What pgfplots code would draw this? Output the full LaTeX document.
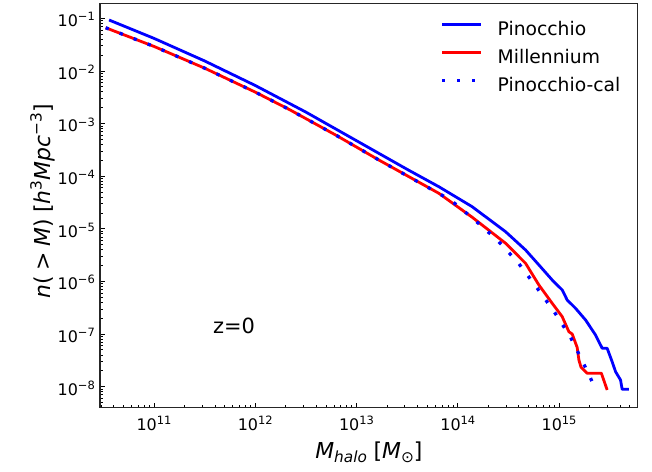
\documentclass[border=0pt]{standalone}
\usepackage{fontspec}
\setmainfont{DejaVu Sans}
\usepackage{pgfplots}
\pgfplotsset{compat=1.18}
\usepackage{pgfplotstable}

\definecolor{mblue}{RGB}{0,0,255}
\definecolor{mred}{RGB}{255,0,0}

\newcommand\tl[1]{10\raisebox{5.9bp}{\fontsize{11.5}{11.5}\selectfont #1}}
\newcommand\sups[1]{\raisebox{8.5bp}{\fontsize{15.4}{15.4}\selectfont #1}}
\newcommand\subs[1]{\raisebox{-4bp}{\fontsize{15.4}{15.4}\selectfont #1}}

\pgfplotstableread{
M n
3.60e10 0.0929
1e11 0.0416
3.162e11 0.01549
1e12 5.29e-3
3.162e12 1.652e-3
1e13 4.72e-4
3.162e13 1.349e-4
6.50e13 6.31e-5
1.387e14 2.63e-5
2.965e14 8.81e-6
4.67e14 3.96e-6
6.32e14 2.06e-6
8.55e14 1.067e-6
1.074e15 6.89e-7
1.202e15 4.45e-7
1.455e15 3.09e-7
1.828e15 1.85e-7
2.291e15 9.62e-8
2.667e15 5.37e-8
2.985e15 5.37e-8
3.342e15 2.99e-8
3.614e15 1.93e-8
4.046e15 1.34e-8
4.198e15 8.93e-9
4.887e15 8.93e-9
}\pinocchio

\pgfplotstableread{
M n
3.334e10 0.0662
1e11 0.02924
3.162e11 0.01130
1e12 3.96e-3
2.153e12 1.866e-3
6.31e12 5.97e-4
1.663e13 2.03e-4
6.50e13 4.73e-5
1.387e14 1.66e-5
2.965e14 5.31e-6
4.67e14 2.21e-6
6.32e14 8.57e-7
8.55e14 3.85e-7
1.074e15 2.14e-7
1.250e15 1.109e-7
1.349e15 1.0e-7
1.510e15 5.56e-8
1.570e15 3.22e-8
1.644e15 2.37e-8
1.897e15 1.80e-8
2.618e15 1.80e-8
2.985e15 8.67e-9
}\millennium

\pgfplotstableread{
M n
3.334e10 0.0662
1e11 0.02924
3.162e11 0.01130
1e12 3.96e-3
2.153e12 1.866e-3
6.31e12 5.97e-4
1.663e13 2.03e-4
8.49e13 3.53e-5
1.442e14 1.517e-5
2.449e14 6.14e-6
3.945e14 2.27e-6
6.00e14 7.74e-7
8.95e14 2.66e-7
1.300e15 8.69e-8
1.730e15 2.86e-8
2.014e15 1.55e-8
2.291e15 8.93e-9
}\pinocal

\begin{document}
\begin{tikzpicture}
\begin{axis}[
  xmode=log, ymode=log,
  scale only axis, width=537.7bp, height=404.4bp,
  xmin=2.93e10, xmax=5.98e15,
  ymin=3.99e-9, ymax=0.193,
  xtick={1e11,1e12,1e13,1e14,1e15},
  xticklabels={\tl{11},\tl{12},\tl{13},\tl{14},\tl{15}},
  ytick={1e-8,1e-7,1e-6,1e-5,1e-4,1e-3,1e-2,1e-1},
  yticklabels={\tl{−8},\tl{−7},\tl{−6},\tl{−5},\tl{−4},\tl{−3},\tl{−2},\tl{−1}},
  minor xtick={3e10,4e10,5e10,6e10,7e10,8e10,9e10,
    2e11,3e11,4e11,5e11,6e11,7e11,8e11,9e11,
    2e12,3e12,4e12,5e12,6e12,7e12,8e12,9e12,
    2e13,3e13,4e13,5e13,6e13,7e13,8e13,9e13,
    2e14,3e14,4e14,5e14,6e14,7e14,8e14,9e14,
    2e15,3e15,4e15,5e15},
  minor ytick={4e-9,5e-9,6e-9,7e-9,8e-9,9e-9,
    2e-8,3e-8,4e-8,5e-8,6e-8,7e-8,8e-8,9e-8,
    2e-7,3e-7,4e-7,5e-7,6e-7,7e-7,8e-7,9e-7,
    2e-6,3e-6,4e-6,5e-6,6e-6,7e-6,8e-6,9e-6,
    2e-5,3e-5,4e-5,5e-5,6e-5,7e-5,8e-5,9e-5,
    2e-4,3e-4,4e-4,5e-4,6e-4,7e-4,8e-4,9e-4,
    2e-3,3e-3,4e-3,5e-3,6e-3,7e-3,8e-3,9e-3,
    2e-2,3e-2,4e-2,5e-2,6e-2,7e-2,8e-2,9e-2},
  tick pos=left, tick align=inside,
  major tick length=5bp, minor tick length=2.8bp,
  every tick/.style={black, line width=0.9bp},
  axis line style={line width=1.5bp, black!85},
  xticklabel style={font=\fontsize{16}{16}\selectfont, anchor=base, yshift=-23bp, inner sep=0pt},
  yticklabel style={font=\fontsize{16}{16}\selectfont, anchor=base east, xshift=-5bp, yshift=-8.4bp, inner sep=0pt},
  xlabel={{\itshape M}\subs{\itshape halo}\hspace{0.3em}[{\itshape M}\subs{⊙}]},
  ylabel={{\itshape n}(\hspace{0.25em}>\hspace{0.25em}{\itshape M})\hspace{0.3em}[{\itshape h}\sups{3}{\itshape Mpc}\sups{−3}]},
  xlabel style={font=\fontsize{22}{22}\selectfont, at={(axis description cs:0.5,-0.1251)}, anchor=base, inner sep=0pt},
  ylabel style={font=\fontsize{22}{22}\selectfont, at={(axis description cs:-0.093,0.51)}, anchor=base, inner sep=0pt},
  legend style={draw=none, fill=none, inner sep=0pt, outer sep=0pt,
    at={(axis description cs:0.633,0.966)}, anchor=north west,
    font=\fontsize{18.8}{18.8}\selectfont, row sep=0pt,
    nodes={inner sep=0pt, text height=18bp, text depth=10bp},
    /tikz/every odd column/.append style={column sep=15bp}},
  legend cell align=left,
  legend image code/.code={\draw[#1] (0bp,6.9bp) -- (39bp,6.9bp);},
]
\addplot[mblue, line width=2.8bp, line join=round] table[x=M,y=n] {\pinocchio};
\addlegendentry{Pinocchio}
\addplot[mred, line width=2.8bp, line join=round] table[x=M,y=n] {\millennium};
\addlegendentry{Millennium}
\addplot[mblue, line width=3.3bp, line cap=butt, dash pattern=on 3.3bp off 11.7bp] table[x=M,y=n] {\pinocal};
\addlegendentry{Pinocchio-cal}
\node[font=\fontsize{21}{21}\selectfont, anchor=base, inner sep=0pt] at (axis cs:6.17e11,1.035e-7) {z=0};
\coordinate (sw) at (rel axis cs:0,0);
\coordinate (ne) at (rel axis cs:1,1);
\end{axis}
\path ([xshift=-100bp,yshift=-64.3bp]sw) rectangle ([xshift=14.3bp,yshift=3.3bp]ne);
\end{tikzpicture}
\end{document}
